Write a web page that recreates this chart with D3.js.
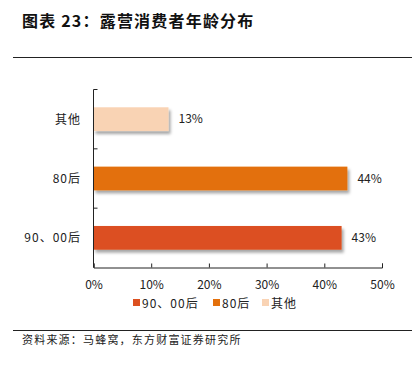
<!DOCTYPE html>
<html><head><meta charset="utf-8">
<script src="https://cdn.jsdelivr.net/npm/d3@7/dist/d3.min.js"></script>
<style>
body{margin:0;background:#fff;}
text{font-family:"Noto Sans CJK SC","DejaVu Sans",sans-serif;}
</style></head>
<body>
<script>
const categories = ["其他", "80后", "90、00后"];
const values = [13, 44, 43];
const colors = ["#F9D3B4", "#E3700C", "#DC5020"];
const xTicks = [0, 10, 20, 30, 40, 50];
const legendOrder = ["90、00后", "80后", "其他"];
const title = "图表 23：露营消费者年龄分布";
const source = "资料来源：马蜂窝，东方财富证券研究所";

const W = 417, H = 365;
const svg = d3.select("body").append("svg").attr("width", W).attr("height", H);

const defs = svg.append("defs");
const f = defs.append("filter").attr("id","sh").attr("x","-10%").attr("y","-30%").attr("width","130%").attr("height","180%");
f.append("feDropShadow").attr("dx",2).attr("dy",3).attr("stdDeviation",1.8).attr("flood-color","#000").attr("flood-opacity",0.35);

svg.append("text").attr("x",22).attr("y",27).attr("font-size",16).attr("font-weight","bold").attr("letter-spacing",1.2).attr("fill","#111").text(title);
svg.append("line").attr("x1",13).attr("x2",412).attr("y1",57.5).attr("y2",57.5).attr("stroke","#222").attr("stroke-width",1);
svg.append("line").attr("x1",13).attr("x2",412).attr("y1",330.5).attr("y2",330.5).attr("stroke","#222").attr("stroke-width",1);
svg.append("text").attr("x",22).attr("y",344).attr("font-size",11).attr("letter-spacing",1.2).attr("fill","#222").text(source);

const x = d3.scaleLinear().domain([0,50]).range([93.5,382]);
const y = d3.scaleBand().domain(categories).range([89.5,267.5]).paddingInner(0.6).paddingOuter(0.3);

// bars
svg.append("g").selectAll("rect").data(categories).join("rect")
  .attr("x", x(0)).attr("y", d=>y(d)).attr("height", y.bandwidth())
  .attr("width", (d,i)=>x(values[i])-x(0))
  .attr("fill", (d,i)=>colors[i]).attr("filter","url(#sh)");

// value labels
svg.append("g").selectAll("text").data(categories).join("text")
  .attr("x", (d,i)=>x(values[i])+10).attr("y", d=>y(d)+y.bandwidth()/2+4)
  .attr("font-size",12).attr("fill","#222").text((d,i)=>values[i]+"%");

// y axis
const yAxisG = svg.append("g");
yAxisG.append("line").attr("x1",93.5).attr("x2",93.5).attr("y1",89.5).attr("y2",267.5).attr("stroke","#222");
const step = y.step();
[0,1,2].forEach(i=>{
  const yy = 89.5 + step*i;
  yAxisG.append("line").attr("x1",93.5).attr("x2",97.5).attr("y1",yy).attr("y2",yy).attr("stroke","#222");
});
svg.append("g").selectAll("text").data(categories).join("text")
  .attr("x",81).attr("y", d=>y(d)+y.bandwidth()/2+4.5).attr("text-anchor","end")
  .attr("font-size",12).attr("letter-spacing",1).attr("fill","#222").text(d=>d);

// x axis
const xa = d3.axisBottom(x).tickValues(xTicks).tickFormat(d=>d+"%").tickSizeInner(-4).tickSizeOuter(-4).tickPadding(13);
const gx = svg.append("g").attr("transform","translate(0,267.5)").call(xa);
gx.select(".domain").attr("stroke","#222");
gx.selectAll(".tick line").attr("stroke","#222");
gx.selectAll("text").attr("font-size",12).attr("fill","#222").style("font-family","'Noto Sans CJK SC',sans-serif");

// legend
const legX = [133, 213, 262];
const lg = svg.append("g");
legendOrder.forEach((name,i)=>{
  const ci = categories.indexOf(name);
  lg.append("rect").attr("x",legX[i]).attr("y",299).attr("width",7).attr("height",7).attr("fill",colors[ci]);
  lg.append("text").attr("x",legX[i]+9).attr("y",307.5).attr("font-size",12).attr("letter-spacing",1).attr("fill","#222").text(name);
});
</script>
</body></html>
